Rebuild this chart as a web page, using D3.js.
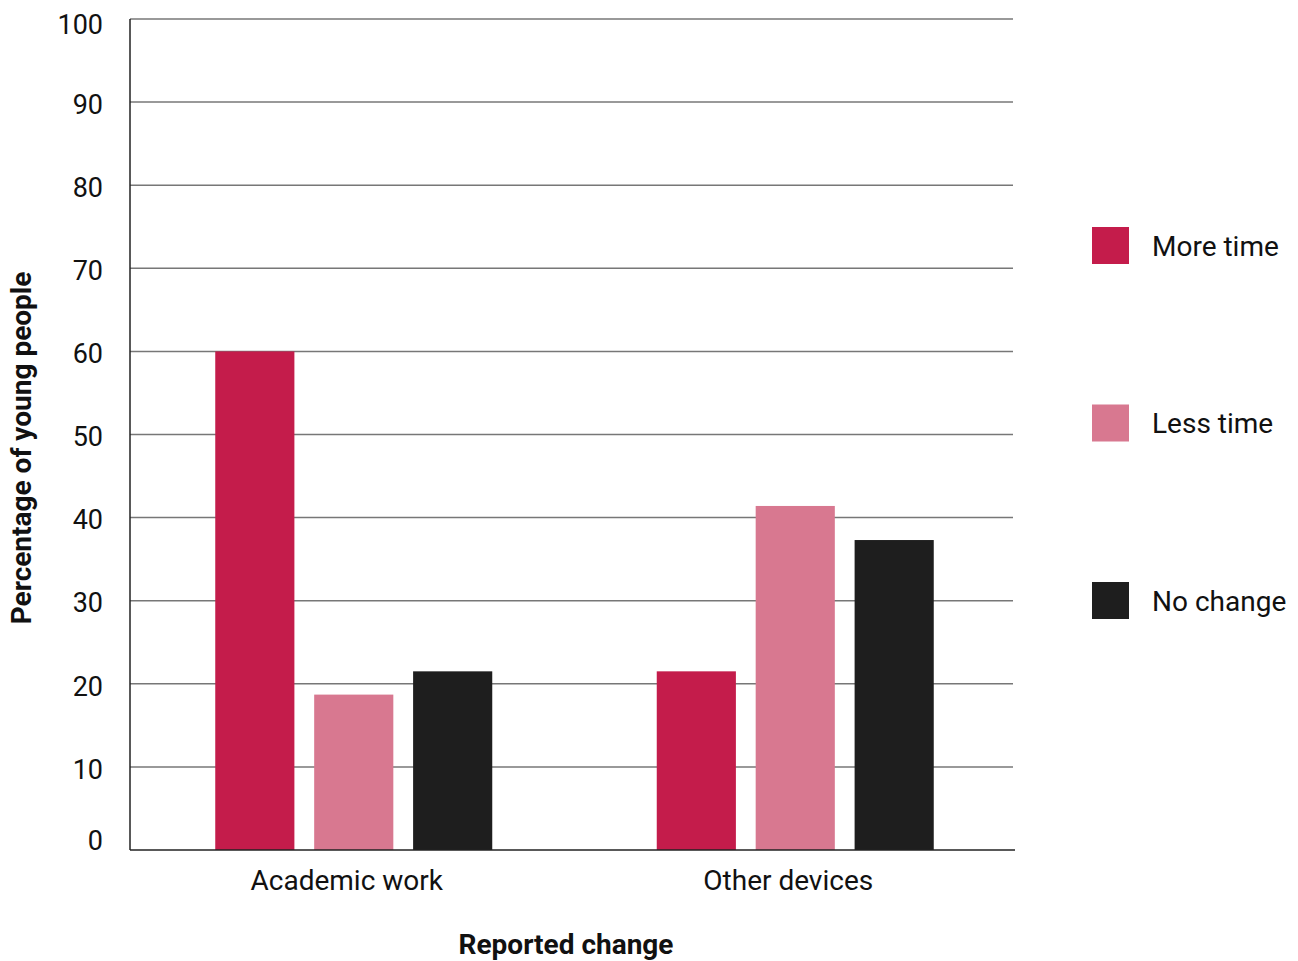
<!DOCTYPE html>
<html lang="en">
<head>
<meta charset="UTF-8">
<title>Reported change</title>
<script src="https://d3js.org/d3.v7.min.js"></script>
<style>
  body { margin: 0; background: #fff; }
  text { font-family: Roboto, "Noto Sans", sans-serif; fill: #111; }
</style>
</head>
<body>
<svg id="chart" width="1298" height="961"></svg>
<script>
// data
var categories = ["Academic work", "Other devices"];
var seriesNames = ["More time", "Less time", "No change"];
var seriesColors = ["#c41c4b", "#d87890", "#1e1e1e"];
var moreTime = [60, 21.5];
var lessTime = [18.7, 41.4];
var noChange = [21.5, 37.3];
var yTicks = [0, 10, 20, 30, 40, 50, 60, 70, 80, 90, 100];

var values = [moreTime, lessTime, noChange];

var svg = d3.select("#chart");
var plotLeft = 130, plotRight = 1013, plotTop = 19, plotBottom = 850;

var x = d3.scaleBand().domain(categories).range([plotLeft, plotRight]);
var y = d3.scaleLinear().domain([0, 100]).range([plotBottom, plotTop]);

// grid lines
svg.append("g").selectAll("line").data(yTicks.filter(function(d){ return d > 0; })).enter()
  .append("line")
    .attr("x1", plotLeft).attr("x2", plotRight)
    .attr("y1", function(d){ return y(d); })
    .attr("y2", function(d){ return y(d); })
    .attr("stroke", "#777").attr("stroke-width", 1.5);

// tick labels (ends pulled inward like the original)
svg.append("g").selectAll("text").data(yTicks).enter()
  .append("text")
    .attr("x", 103)
    .attr("y", function(d){ return Math.min(Math.max(y(d) + 2, 24), 840); })
    .attr("dy", "0.36em")
    .attr("text-anchor", "end")
    .attr("font-size", 27)
    .text(function(d){ return d; });

// bars
var groups = svg.append("g").selectAll("g").data(categories).enter().append("g");
groups.each(function(cat, ci) {
  var c = x(cat) + x.bandwidth() / 2 + 3;
  var inner = d3.scaleBand().domain(seriesNames).range([c - 138.5, c + 138.5]).paddingInner(0.2);
  d3.select(this).selectAll("rect").data(seriesNames).enter()
    .append("rect")
      .attr("x", function(s){ return inner(s); })
      .attr("width", inner.bandwidth())
      .attr("y", function(s, si){ return y(values[si][ci]); })
      .attr("height", function(s, si){ return plotBottom - y(values[si][ci]); })
      .attr("fill", function(s, si){ return seriesColors[si]; });
});

// axes lines
svg.append("line").attr("x1", plotLeft).attr("x2", plotLeft).attr("y1", plotTop).attr("y2", plotBottom)
  .attr("stroke", "#222").attr("stroke-width", 1.5);
svg.append("line").attr("x1", plotLeft).attr("x2", plotRight + 2).attr("y1", plotBottom).attr("y2", plotBottom)
  .attr("stroke", "#222").attr("stroke-width", 1.5);

// category labels
svg.append("g").selectAll("text").data(categories).enter()
  .append("text")
    .attr("x", function(d){ return x(d) + x.bandwidth() / 2 - 4; })
    .attr("y", 890)
    .attr("text-anchor", "middle")
    .attr("font-size", 28)
    .text(function(d){ return d; });

// axis titles
svg.append("text")
  .attr("x", 566).attr("y", 954)
  .attr("text-anchor", "middle")
  .attr("font-size", 28).attr("font-weight", "bold")
  .text("Reported change");
svg.append("text")
  .attr("transform", "translate(31,448) rotate(-90)")
  .attr("text-anchor", "middle")
  .attr("font-size", 28).attr("font-weight", "bold")
  .text("Percentage of young people");

// legend
var legend = svg.append("g").selectAll("g").data(seriesNames).enter()
  .append("g")
    .attr("transform", function(d, i){ return "translate(1092," + (227 + i * 177.5) + ")"; });
legend.append("rect").attr("width", 37).attr("height", 37)
  .attr("fill", function(d, i){ return seriesColors[i]; });
legend.append("text").attr("x", 60).attr("y", 18.5).attr("dy", "0.36em")
  .attr("font-size", 28)
  .text(function(d){ return d; });
</script>
</body>
</html>
